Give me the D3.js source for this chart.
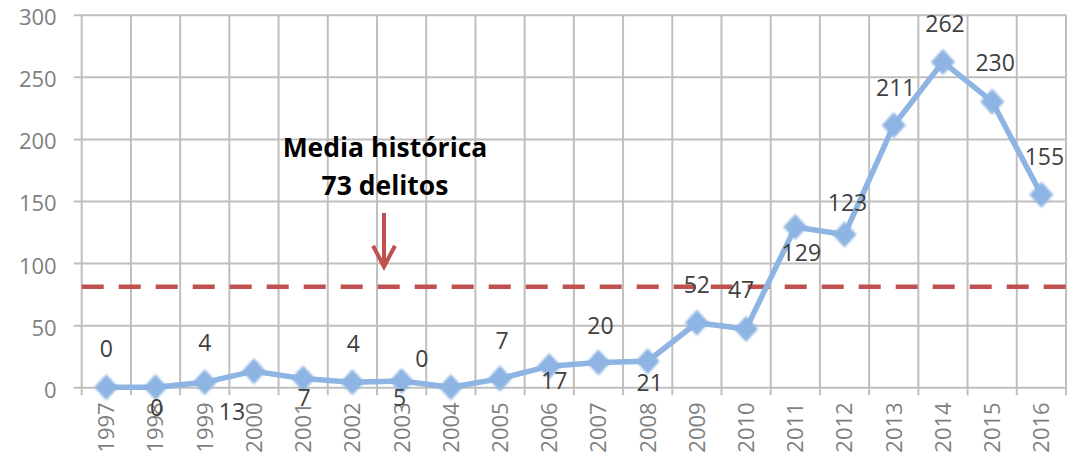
<!DOCTYPE html>
<html>
<head>
<meta charset="utf-8">
<script src="https://cdn.jsdelivr.net/npm/d3@7"></script>
<style>
  html, body { margin: 0; padding: 0; background: #fff; }
  svg { display: block; font-family: "Open Sans", "Liberation Sans", sans-serif; }
</style>
</head>
<body>
<div id="chart"></div>
<script>
// --- datos ---
const anios = ['1997', '1998', '1999', '2000', '2001', '2002', '2003', '2004', '2005', '2006',
  '2007', '2008', '2009', '2010', '2011', '2012', '2013', '2014', '2015', '2016'];
const delitos = [0, 0, 4, 13, 7, 4, 5, 0, 7, 17, 20, 21, 52, 47, 129, 123, 211, 262, 230, 155];
const yTicks = [0, 50, 100, 150, 200, 250, 300];
const mediaLinea = 81;
const mediaTexto = ['Media histórica', '73 delitos'];

// desplazamiento de cada etiqueta respecto a su punto (px)
const labelOffsets = [
  [0, -39], [1, 20], [0, -40], [-22, 41], [1, 19], [1, -39], [-2, 17], [-29, -29],
  [2, -38], [5, 15], [2, -37], [2, 22], [0, -38], [-5, -39], [6, 26], [3, -32],
  [2, -38], [2, -38], [3, -39], [3, -38]
];

const width = 1072, height = 455;
const margin = { top: 14.7, right: 6, bottom: 67.7, left: 81.7 };
const gridColor = '#bfbfbf';
const lineColor = '#8db4e2';
const redColor = '#c0504d';

const svg = d3.select('#chart').append('svg')
  .attr('width', width)
  .attr('height', height);

const defs = svg.append('defs');
defs.append('filter').attr('id', 'soft')
  .attr('x', '-30%').attr('y', '-30%').attr('width', '160%').attr('height', '160%')
  .append('feGaussianBlur').attr('stdDeviation', 0.9);

const x = d3.scaleBand()
  .domain(anios)
  .range([margin.left, width - margin.right])
  .padding(0);

const y = d3.scaleLinear()
  .domain([0, 300])
  .range([height - margin.bottom, margin.top]);

const cx = d => x(d) + x.bandwidth() / 2;

// --- rejilla vertical (límites de categoría) ---
const bounds = anios.map(a => x(a)).concat([width - margin.right]);
svg.append('g')
  .selectAll('line')
  .data(bounds)
  .join('line')
  .attr('x1', d => d).attr('x2', d => d)
  .attr('y1', margin.top).attr('y2', y(0) + 8)
  .attr('stroke', gridColor)
  .attr('stroke-width', 2);

// --- eje Y con rejilla horizontal ---
const yAxis = svg.append('g')
  .attr('transform', `translate(${margin.left},0)`)
  .call(d3.axisLeft(y).tickValues(yTicks).tickSize(-(width - margin.left - margin.right)).tickPadding(0));
yAxis.select('.domain').remove();
yAxis.selectAll('.tick line')
  .attr('x1', -8)
  .attr('stroke', gridColor)
  .attr('stroke-width', 2);
yAxis.selectAll('.tick text')
  .attr('x', -25)
  .attr('dy', '0.45em')
  .attr('fill', '#7f7f7f')
  .style('font-size', '22px')
  .style('font-family', '"Open Sans", sans-serif');

// --- eje X ---
const xAxis = svg.append('g')
  .attr('transform', `translate(0,${y(0)})`)
  .call(d3.axisBottom(x).tickSize(0).tickPadding(0));
xAxis.select('.domain').remove();
xAxis.selectAll('.tick text')
  .attr('transform', 'rotate(-90)')
  .attr('x', -15)
  .attr('y', 0)
  .attr('dy', '0.36em')
  .attr('text-anchor', 'end')
  .attr('fill', '#7f7f7f')
  .style('font-size', '22px')
  .style('font-family', '"Open Sans", sans-serif');

// --- línea de media ---
svg.append('line')
  .attr('x1', margin.left).attr('x2', width - margin.right)
  .attr('y1', y(mediaLinea)).attr('y2', y(mediaLinea))
  .attr('stroke', redColor)
  .attr('stroke-width', 4.5)
  .attr('stroke-dasharray', '22,15');

// --- anotación ---
const ax = 385;
const ann = svg.append('g');
ann.selectAll('text')
  .data(mediaTexto)
  .join('text')
  .attr('x', ax)
  .attr('y', (d, i) => 157 + i * 38)
  .attr('text-anchor', 'middle')
  .attr('fill', '#000')
  .style('font-weight', 'bold')
  .style('font-size', '26.5px')
  .text(d => d);

const tipY = y(mediaLinea) - 20;
ann.append('line')
  .attr('x1', ax - 1).attr('x2', ax - 1)
  .attr('y1', 213).attr('y2', tipY)
  .attr('stroke', redColor).attr('stroke-width', 4);
ann.append('path')
  .attr('d', `M${ax - 12},${tipY - 21}L${ax - 1},${tipY}L${ax + 10},${tipY - 21}`)
  .attr('fill', 'none')
  .attr('stroke', redColor).attr('stroke-width', 4)
  .attr('stroke-linejoin', 'miter');

// --- serie ---
const puntos = anios.map((a, i) => ({ anio: a, v: delitos[i], off: labelOffsets[i] }));

svg.append('path')
  .datum(puntos)
  .attr('d', d3.line().x(d => cx(d.anio)).y(d => y(d.v)))
  .attr('fill', 'none')
  .attr('stroke', lineColor)
  .attr('stroke-width', 5.5)
  .attr('stroke-linejoin', 'round');

const diamond = 'M0,-13L12,0L0,13L-12,0Z';
svg.append('g')
  .selectAll('path')
  .data(puntos)
  .join('path')
  .attr('d', diamond)
  .attr('transform', d => `translate(${cx(d.anio)},${y(d.v)})`)
  .attr('fill', lineColor)
  .attr('filter', 'url(#soft)');

svg.append('g')
  .selectAll('text')
  .data(puntos)
  .join('text')
  .attr('x', d => cx(d.anio) + d.off[0])
  .attr('y', d => y(d.v) + d.off[1])
  .attr('dy', '0.36em')
  .attr('text-anchor', 'middle')
  .attr('fill', '#404040')
  .style('font-size', '23px')
  .text(d => d.v);
</script>
</body>
</html>
